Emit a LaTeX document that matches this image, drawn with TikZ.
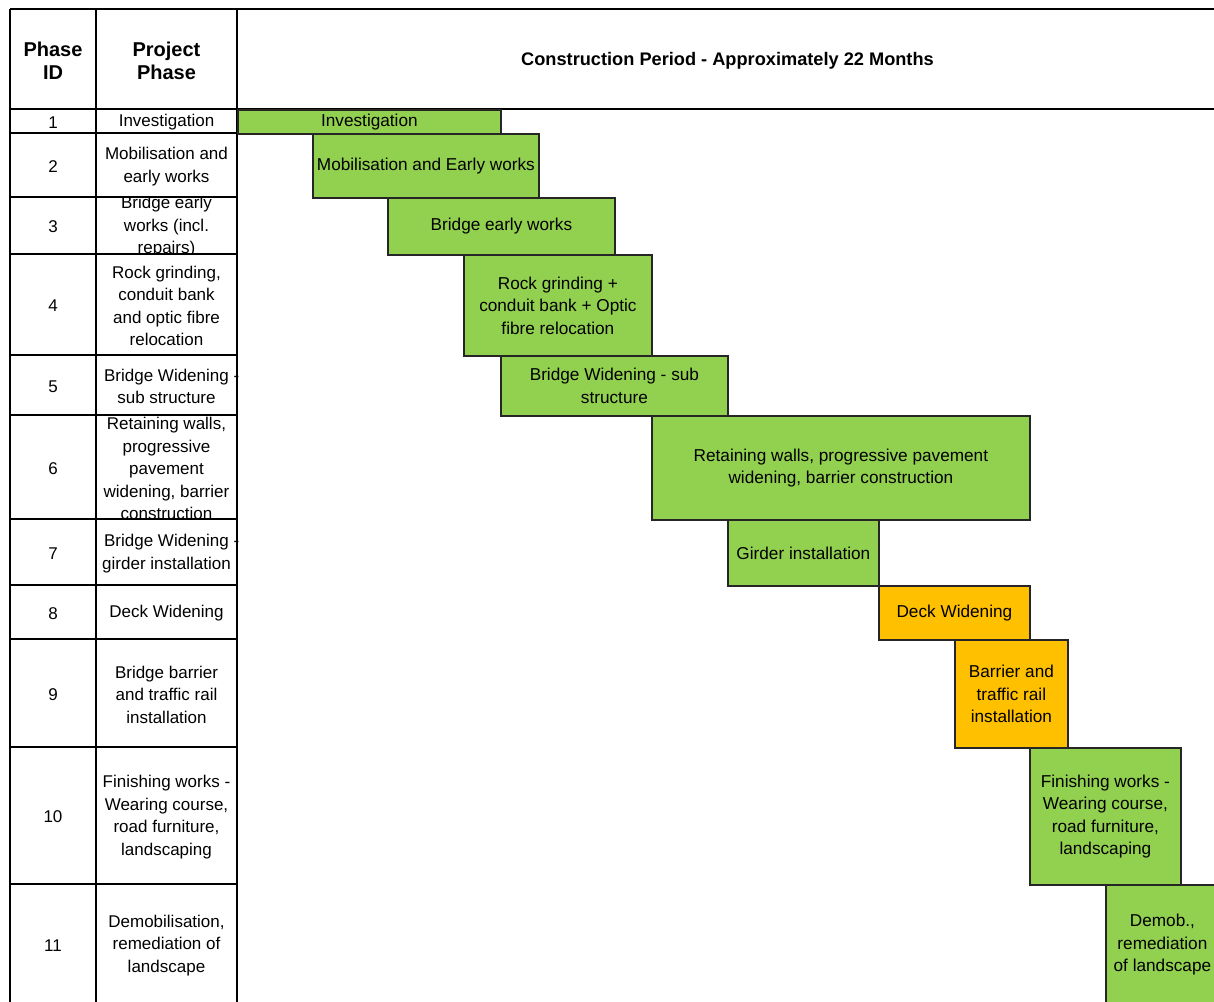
\documentclass[tikz,border=0pt]{standalone}
\usepackage{fontspec}
\setmainfont{Liberation Sans}
\usepackage{tikz}
\definecolor{bargreen}{HTML}{92D050}
\definecolor{barorange}{HTML}{FFC000}
\definecolor{barline}{HTML}{262626}

\begin{document}
\begin{tikzpicture}[x=0.5pt,y=-0.5pt,
    grid line/.style={draw=black,line width=1pt},
    head node/.style={align=center,inner sep=0pt,yshift=-0.75pt,font=\fontsize{10}{11.5}\selectfont\bfseries},
    cell node/.style={align=center,inner sep=0pt,yshift=-0.75pt,font=\fontsize{8.5}{11.25}\selectfont},
    bar node/.style={draw=barline,line width=0.9pt,fill=bargreen,anchor=north west,inner sep=0pt,align=center,font=\fontsize{8.6}{11.25}\selectfont},
    late bar/.style={bar node,fill=barorange}]
    \useasboundingbox (0,0) rectangle (1214,1001);
    \clip (0,0) rectangle (1214,1001);

    % table lines
    \draw[grid line] (10,9) -- (1218,9);
    \draw[grid line] (10,109) -- (1218,109);
    \draw[grid line] (10,9) -- (10,1004);
    \draw[grid line] (96,9) -- (96,1004);
    \draw[grid line] (237,9) -- (237,1004);
    \draw[grid line] (10,133) -- (237,133);
    \draw[grid line] (10,197) -- (237,197);
    \draw[grid line] (10,254) -- (237,254);
    \draw[grid line] (10,355) -- (237,355);
    \draw[grid line] (10,415) -- (237,415);
    \draw[grid line] (10,519) -- (237,519);
    \draw[grid line] (10,585) -- (237,585);
    \draw[grid line] (10,639) -- (237,639);
    \draw[grid line] (10,747) -- (237,747);
    \draw[grid line] (10,884) -- (237,884);

    % header
    \node[head node] (idhead) at (53,59) {Phase\\ID};
    \node[head node] (phasehead) at (166.5,59) {Project\\Phase};
    \node[head node,font=\fontsize{9.1}{11.5}\selectfont\bfseries] (periodhead) at (727.5,59) {Construction Period - Approximately 22 Months};

    % phase id column
    \node[cell node] (id1) at (53,121) {1};
    \node[cell node] (id2) at (53,165) {2};
    \node[cell node] (id3) at (53,225.5) {3};
    \node[cell node] (id4) at (53,304.5) {4};
    \node[cell node] (id5) at (53,385) {5};
    \node[cell node] (id6) at (53,467) {6};
    \node[cell node] (id7) at (53,552) {7};
    \node[cell node] (id8) at (53,612) {8};
    \node[cell node] (id9) at (53,693) {9};
    \node[cell node] (id10) at (53,815.5) {10};
    \node[cell node] (id11) at (53,944) {11};

    % project phase column
    \node[cell node] (ph1) at (166.5,121) {Investigation};
    \node[cell node] (ph2) at (166.5,165) {Mobilisation and\\early works};
    \begin{scope}
      \clip (96,197) rectangle (237,254);
      \node[cell node] (ph3) at (166.5,225.5) {Bridge early\\works (incl.\\repairs)};
    \end{scope}
    \node[cell node] (ph4) at (166.5,304.5) {Rock grinding,\\conduit bank\\and optic fibre\\relocation};
    \node[cell node] (ph5) at (166.5,385) {Bridge Widening\rlap{ -}\\sub structure};
    \begin{scope}
      \clip (96,415) rectangle (237,519);
      \node[cell node] (ph6) at (166.5,467) {Retaining walls,\\progressive\\pavement\\widening, barrier\\construction};
    \end{scope}
    \node[cell node] (ph7) at (166.5,552) {Bridge Widening\rlap{ -}\\girder installation};
    \node[cell node] (ph8) at (166.5,612) {Deck Widening};
    \node[cell node] (ph9) at (166.5,693) {Bridge barrier\\and traffic rail\\installation};
    \node[cell node] (ph10) at (166.5,815.5) {Finishing works -\\Wearing course,\\road furniture,\\landscaping};
    \node[cell node] (ph11) at (166.5,944) {Demobilisation,\\remediation of\\landscape};

    % gantt bars
    \node[bar node,minimum width=131.5pt,minimum height=12pt] (bar1) at (237,109) {Investigation};
    \node[bar node,minimum width=113pt,minimum height=32pt] (bar2) at (312,133) {Mobilisation and Early works};
    \node[bar node,minimum width=113.5pt,minimum height=28.5pt] (bar3) at (387,197) {Bridge early works};
    \node[bar node,minimum width=94pt,minimum height=50.5pt] (bar4) at (463,254) {Rock grinding +\\conduit bank + Optic\\fibre relocation};
    \node[bar node,minimum width=113.5pt,minimum height=30pt] (bar5) at (500,355) {Bridge Widening - sub\\structure};
    \node[bar node,minimum width=189pt,minimum height=52pt] (bar6) at (651,415) {Retaining walls, progressive pavement\\widening, barrier construction};
    \node[bar node,minimum width=75.5pt,minimum height=33pt] (bar7) at (727,519) {Girder installation};
    \node[late bar,minimum width=75.5pt,minimum height=27pt] (bar8) at (878,585) {Deck Widening};
    \node[late bar,minimum width=56.5pt,minimum height=54pt] (bar9) at (954,639) {Barrier and\\traffic rail\\installation};
    \node[bar node,minimum width=75.5pt,minimum height=68.5pt] (bar10) at (1029,747) {Finishing works -\\Wearing course,\\road furniture,\\landscaping};
    \node[bar node,minimum width=56.5pt,minimum height=60pt] (bar11) at (1105,884) {Demob.,\\remediation\\of landscape};
\end{tikzpicture}
\end{document}
